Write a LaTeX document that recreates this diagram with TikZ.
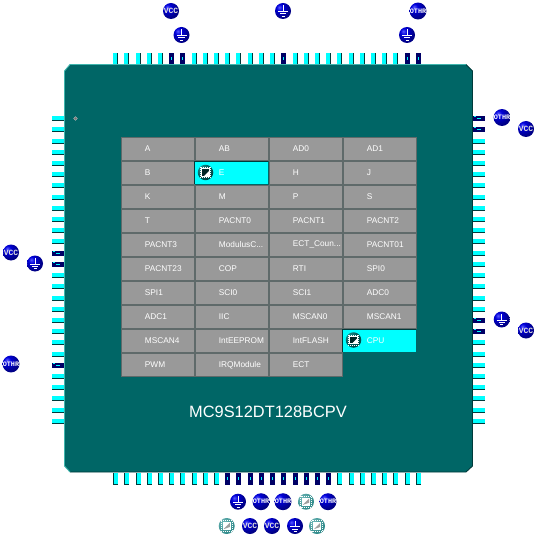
\documentclass[tikz,border=0pt]{standalone}
\usepackage{fontspec}
\usetikzlibrary{calc}
\setmainfont{Liberation Sans}
\newfontfamily\monofnt{Liberation Mono}
\newcommand{\tdots}{...}
\definecolor{chipteal}{HTML}{006666}
\definecolor{chiplight}{HTML}{3FB5AD}
\definecolor{chipdark}{HTML}{003A3A}
\definecolor{pincyan}{HTML}{00FFFF}
\definecolor{pinnavy}{HTML}{000066}
\definecolor{cellgray}{HTML}{999999}
\definecolor{celledge}{HTML}{5F6A6A}
\pgfdeclareradialshading{bluesphere}{\pgfpoint{-12bp}{12bp}}{
  color(0bp)=(blue!65!white); color(10bp)=(blue!85!black); color(28bp)=(blue!55!black);
  color(55bp)=(blue!35!black); color(72bp)=(blue!12!black); color(100bp)=(black)}
\pgfdeclareradialshading{darkchipsphere}{\pgfpoint{-14bp}{14bp}}{
  color(0bp)=(teal!85!white); color(24bp)=(teal!70!black); color(50bp)=(teal!25!black);
  color(70bp)=(black); color(100bp)=(black)}
\pgfdeclareradialshading{lightchipsphere}{\pgfpoint{-12bp}{12bp}}{
  color(0bp)=(teal!55!white); color(40bp)=(teal!75!gray); color(65bp)=(teal!50!black);
  color(85bp)=(teal!25!black); color(100bp)=(black)}
\tikzset{
  cellbox/.style={anchor=north west,minimum height=23pt,text width=73pt,align=left,inner sep=0pt,
    fill=cellgray,draw=celledge,line width=0.8pt,text=white,font=\fontsize{8.3}{10}\selectfont},
  cellon/.style={cellbox,fill=pincyan,draw=none},
  powerball/.style={circle,inner sep=0pt,minimum size=16pt,shading=bluesphere,text=white},
  vcclabel/.style={powerball,font=\monofnt\bfseries\fontsize{8}{8}\selectfont,text=white!88!black},
  othrlabel/.style={powerball,font=\monofnt\bfseries\fontsize{6.8}{8}\selectfont},
  chipicon/.style={circle,inner sep=0pt,minimum size=16pt,shading=#1},
  gndbar/.style={white,line width=1pt},
  title/.style={text=white,font=\fontsize{16.4}{18}\selectfont,inner sep=0pt}
}
% pins: #1 = centre along the side, #2 = kind
\newcommand{\toppin}[2]{%
  \ifnum#2=1
    \fill[pinnavy] (#1-2.6,53) rectangle (#1+2.6,64);
    \fill[pincyan] (#1-0.6,57) rectangle (#1+0.4,60);
  \else
    \fill[pincyan] (#1-2.6,53) rectangle (#1+1.3,64);
    \fill[chipdark] (#1+1.3,53) rectangle (#1+2.4,64);
  \fi}
\newcommand{\botpin}[2]{%
  \ifnum#2=1
    \fill[pinnavy] (#1-2.6,473) rectangle (#1+2.4,485);
    \fill[pincyan] (#1-0.8,477) rectangle (#1+0.6,480);
  \else
    \fill[pincyan] (#1-1.5,473) rectangle (#1+2.4,485);
    \fill[chipdark] (#1-2.6,473) rectangle (#1-1.5,485);
    \fill[chipdark] (#1-2.6,484) rectangle (#1+2.4,485);
  \fi}
\newcommand{\sidepin}[3]{% #1 x0, #2 y, #3 kind
  \ifnum#3=1
    \fill[pinnavy] (#1,#2-2.6) rectangle (#1+12,#2+2.4);
    \fill[pincyan] (#1+4,#2-0.6) rectangle (#1+8,#2+0.4);
    \fill[pincyan] (#1+1,#2-2.6) rectangle (#1+3,#2-1.6);
  \else
    \fill[pincyan] (#1,#2-2.6) rectangle (#1+12,#2+1.4);
    \fill[chipdark] (#1,#2+1.4) rectangle (#1+12,#2+2.4);
  \fi}
\newcommand{\gndmark}[1]{%
  \draw[gndbar,line width=0.9pt] ($(#1)+(0,-5.5)$) -- ($(#1)+(0,0.5)$);
  \draw[gndbar] ($(#1)+(-5,0.5)$) -- ($(#1)+(5,0.5)$);
  \draw[gndbar] ($(#1)+(-3.2,3)$) -- ($(#1)+(3.2,3)$);
  \draw[gndbar] ($(#1)+(-1.5,5.3)$) -- ($(#1)+(1.5,5.3)$);}
\newcommand{\chipmarkdark}[1]{%
  \fill[black!70!teal] ($(#1)+(-3.8,-3.8)$) rectangle ($(#1)+(3.8,3.8)$);
  \draw[white,line width=0.7pt] ($(#1)+(-3.8,-3.8)$) rectangle ($(#1)+(3.8,3.8)$);
  \draw[white,line width=0.6pt,dash pattern=on 1pt off 1pt] ($(#1)+(-5.2,-5.2)$) rectangle ($(#1)+(5.2,5.2)$);
  \fill[white] ($(#1)+(3.6,-1.5)$) -- ($(#1)+(3.6,3.6)$) -- ($(#1)+(-1.5,3.6)$) -- cycle;}
\newcommand{\chipmarklight}[1]{%
  \fill[white] ($(#1)+(-4,-4)$) rectangle ($(#1)+(4,4)$);
  \draw[white,line width=0.6pt,dash pattern=on 1pt off 1pt] ($(#1)+(-5.3,-5.3)$) rectangle ($(#1)+(5.3,5.3)$);
  \fill[gray!75] ($(#1)+(3.2,-3.2)$) -- ($(#1)+(3.2,1)$) -- ($(#1)+(-3.2,3.2)$) -- cycle;}
\begin{document}
\begin{tikzpicture}[x=1pt,y=-1pt]
\useasboundingbox (0,0) rectangle (537,537);
% chip body
\fill[chipteal] (70,64.5) -- (466,64.5) -- (472.5,71) -- (472.5,466) -- (466,472) -- (70,472) -- (64.5,466) -- (64.5,71) -- cycle;
\draw[chiplight,line width=0.9pt] (64.5,466) -- (64.5,71) -- (70,64.5) -- (466,64.5);
\draw[chipdark,line width=0.9pt] (466,64.5) -- (472.5,71) -- (472.5,466) -- (466,472) -- (70,472);
\draw[chiplight,line width=0.9pt] (70,472) -- (64.5,466);
\fill[black!55,draw=gray!50,line width=0.4pt] (75.5,118.5) circle (1.9pt);
% pins
\foreach \z/\k in {46/0,79/0,115/0,148/0,181/0,214/1,248/1,283/0,316/0,349/0,382/0,415/0,451/0,484/0,517/0,550/1,586/0,619/0,652/0,685/0,718/0,754/0,787/0,820/0,853/0,886/0,922/1,955/1}
  {\pgfmathsetmacro{\p}{100+\z/3}\toppin{\p}{\k}}
\foreach \z/\k in {46/0,79/0,115/0,148/0,181/0,214/0,247/0,283/0,316/0,349/0,382/1,415/1,451/1,484/1,517/1,550/1,586/1,619/1,652/1,685/1,718/0,754/0,787/0,820/0,853/0,886/0,922/0,955/0}
  {\pgfmathsetmacro{\p}{100+\z/3}\botpin{\p}{\k}}
\foreach \z/\k in {55/0,88/0,124/0,157/0,190/0,223/0,256/0,292/0,325/0,358/0,391/0,424/0,460/1,493/1,526/0,559/0,595/0,628/0,661/0,694/0,727/0,763/0,796/1,829/0,862/0,895/0,931/0,964/0}
  {\pgfmathsetmacro{\p}{100+\z/3}\sidepin{52}{\p}{\k}}
\foreach \z/\k in {55/1,88/1,124/0,157/0,190/0,223/0,256/0,292/0,325/0,358/0,391/0,424/0,460/0,493/0,526/0,559/0,595/0,628/0,661/1,694/1,727/0,763/0,796/0,829/0,862/0,895/0,931/0,964/0}
  {\pgfmathsetmacro{\p}{100+\z/3}\sidepin{473}{\p}{\k}}
% cells
\foreach \nm/\c/\r/\t in {
 a/0/0/A,ab/1/0/AB,adz/2/0/AD0,ado/3/0/AD1,
 b/0/1/B,h/2/1/H,j/3/1/J,
 k/0/2/K,m/1/2/M,p/2/2/P,s/3/2/S,
 t/0/3/T,pz/1/3/PACNT0,po/2/3/PACNT1,ptw/3/3/PACNT2,
 pth/0/4/PACNT3,modc/1/4/ModulusC\tdots,ectc/2/4/ECT\_Coun\tdots,pzo/3/4/PACNT01,
 ptt/0/5/PACNT23,cop/1/5/COP,rti/2/5/RTI,spiz/3/5/SPI0,
 spio/0/6/SPI1,sciz/1/6/SCI0,scio/2/6/SCI1,adcz/3/6/ADC0,
 adco/0/7/ADC1,iic/1/7/IIC,mscz/2/7/MSCAN0,msco/3/7/MSCAN1,
 msc4/0/8/MSCAN4,eep/1/8/IntEEPROM,fla/2/8/IntFLASH,
 pwm/0/9/PWM,irq/1/9/IRQModule,ect/2/9/ECT}
 {\node[cellbox] (\nm) at ({120.5+74*\c},{137+24*\r}) {\hspace*{24pt}\t};}
\node[cellon] (e) at (194.5,161) {\hspace*{24pt}E};
\node[cellon] (cpu) at (342.5,329) {\hspace*{24pt}CPU};
\draw[chipdark,line width=0.8pt] (194.5,184) -- (194.5,161) -- (267.5,161);
\draw[chipdark,line width=0.8pt] (342.5,352) -- (342.5,329) -- (415.5,329);
\node[chipicon=darkchipsphere,minimum size=15.5pt] (eicon) at (205.5,172.5) {};
\chipmarkdark{eicon}
\node[chipicon=darkchipsphere,minimum size=15.5pt] (cpuicon) at (353.5,340) {};
\chipmarkdark{cpuicon}
% title
\node[title] (name) at (268,412) {MC9S12DT128BCPV};
% power balls
\foreach \nm/\x/\y in {v1/171/11,v2/526/129,v3/11/252.5,v4/526/330.5,v5/250/526,v6/272/526}
  {\node[vcclabel] (\nm) at (\x,\y) {VCC};}
\foreach \nm/\x/\y in {o1/418/11,o2/502/117.5,o3/11/364,o4/261/501.7,o5/283/501.7,o6/328/501.7}
  {\node[othrlabel] (\nm) at (\x,\y) {OTHR};}
\foreach \nm/\x/\y in {g1/181.5/35,g2/283/11,g3/407/35,g4/35/263.5,g5/501.7/319.5,g6/238/501.7,g7/295/526}
  {\node[powerball] (\nm) at (\x,\y) {};\gndmark{\nm}}
\foreach \nm/\x/\y in {c1/306/501.7,c2/226.7/526,c3/317/526}
  {\node[chipicon=lightchipsphere] (\nm) at (\x,\y) {};\chipmarklight{\nm}}
\end{tikzpicture}
\end{document}
